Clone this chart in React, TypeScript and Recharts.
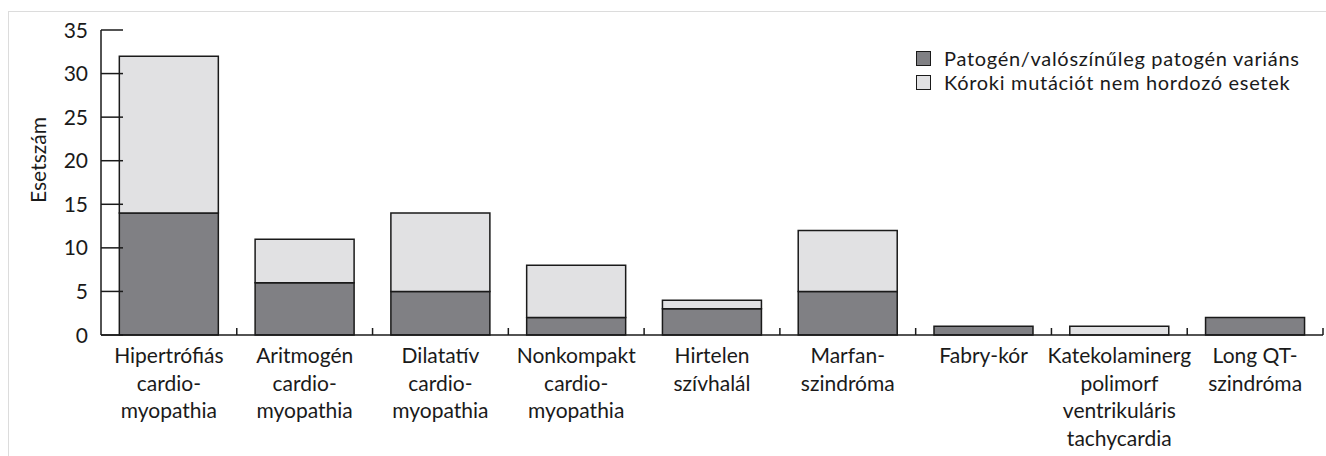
import React from "react";
import { BarChart, Bar, XAxis, YAxis } from "recharts";

const categories = [
  "Hipertrófiás\ncardio-\nmyopathia",
  "Aritmogén\ncardio-\nmyopathia",
  "Dilatatív\ncardio-\nmyopathia",
  "Nonkompakt\ncardio-\nmyopathia",
  "Hirtelen\nszívhalál",
  "Marfan-\nszindróma",
  "Fabry-kór",
  "Katekolaminerg\npolimorf\nventrikuláris\ntachycardia",
  "Long QT-\nszindróma",
];
const pathogenic = [14, 6, 5, 2, 3, 5, 1, 0, 2];
const nonCarrier = [18, 5, 9, 6, 1, 7, 0, 1, 0];
const yTicks = [0, 5, 10, 15, 20, 25, 30, 35];
const seriesNames = [
  "Patogén/valószínűleg patogén variáns",
  "Kóroki mutációt nem hordozó esetek",
];
const seriesColors = ["#808084", "#e1e1e3"];

const data = categories.map((c, i) => ({
  name: c,
  pat: pathogenic[i],
  non: nonCarrier[i],
}));

const W = 1326;
const H = 456;
const PLOT_LEFT = 101;
const PLOT_RIGHT = 1323;
const BAND = (PLOT_RIGHT - PLOT_LEFT) / categories.length;
const FONT = "Lato, 'Noto Sans', sans-serif";
const FS = 21;
const INK = "#1a1a1a";

const YTick = (props: any) => {
  const { x, y, payload } = props;
  return (
    <g>
      <line x1={x} x2={x + 22} y1={y} y2={y} stroke={INK} strokeWidth={1.5} />
      <text x={x - 13} y={y} dy="0.36em" textAnchor="end" fontSize={FS} fill={INK} fontFamily={FONT}>
        {payload.value}
      </text>
    </g>
  );
};

const XTick = (props: any) => {
  const { x, y, payload } = props;
  const lines = String(payload.value).split("\n");
  const bx = x + BAND / 2;
  return (
    <g>
      <line x1={bx} x2={bx} y1={y} y2={y - 7} stroke={INK} strokeWidth={1.5} />
      <text x={x} y={y} textAnchor="middle" fontSize={FS} fill={INK} fontFamily={FONT}>
        {lines.map((l, i) => (
          <tspan key={i} x={x} dy={i === 0 ? 28 : 27.5}>
            {l}
          </tspan>
        ))}
      </text>
    </g>
  );
};

const LegendBox = () => (
  <div
    style={{
      position: "absolute",
      left: 916,
      top: 46,
      fontFamily: FONT,
      fontSize: 20,
      letterSpacing: "0.7px",
      color: INK,
      lineHeight: "24px",
    }}
  >
    {seriesNames.map((n, i) => (
      <div key={n} style={{ display: "flex", alignItems: "center", height: 24, whiteSpace: "nowrap" }}>
        <span
          style={{
            display: "inline-block",
            width: 13,
            height: 13,
            background: seriesColors[i],
            border: `1.5px solid ${INK}`,
            marginRight: 13,
          }}
        />
        <span>{n}</span>
      </div>
    ))}
  </div>
);

export default function App() {
  return (
    <div style={{ position: "absolute", left: 0, top: 0, width: W, height: H, background: "#fff", overflow: "hidden" }}>
      <div
        style={{
          position: "absolute",
          left: 8,
          top: 11,
          width: W + 20,
          height: H + 20,
          border: "1px solid #dcdcdc",
        }}
      />
      <div style={{ position: "absolute", left: 0, top: 0 }}>
        <BarChart
          width={W}
          height={H}
          data={data}
          margin={{ top: 30, right: W - PLOT_RIGHT, left: PLOT_LEFT - 60, bottom: 91 }}
          barCategoryGap="13.5%"
        >
          <XAxis
            dataKey="name"
            height={30}
            tickSize={0}
            tickMargin={0}
            tickLine={false}
            axisLine={{ stroke: INK, strokeWidth: 1.5 }}
            tick={<XTick />}
            interval={0}
          />
          <YAxis
            width={60}
            domain={[0, 35]}
            ticks={yTicks}
            tickSize={0}
            tickMargin={0}
            tickLine={false}
            axisLine={{ stroke: INK, strokeWidth: 1.5 }}
            tick={<YTick />}
            label={() => (
              <text
                x={37}
                y={160}
                transform="rotate(-90 37 160)"
                textAnchor="middle"
                dominantBaseline="central"
                fontSize={FS}
                fill={INK}
                fontFamily={FONT}
              >
                Esetszám
              </text>
            )}
          />
          <Bar dataKey="pat" name={seriesNames[0]} stackId="a" fill={seriesColors[0]} stroke={INK} strokeWidth={1.5} isAnimationActive={false} />
          <Bar dataKey="non" name={seriesNames[1]} stackId="a" fill={seriesColors[1]} stroke={INK} strokeWidth={1.5} isAnimationActive={false} />
        </BarChart>
      </div>
      <LegendBox />
    </div>
  );
}
